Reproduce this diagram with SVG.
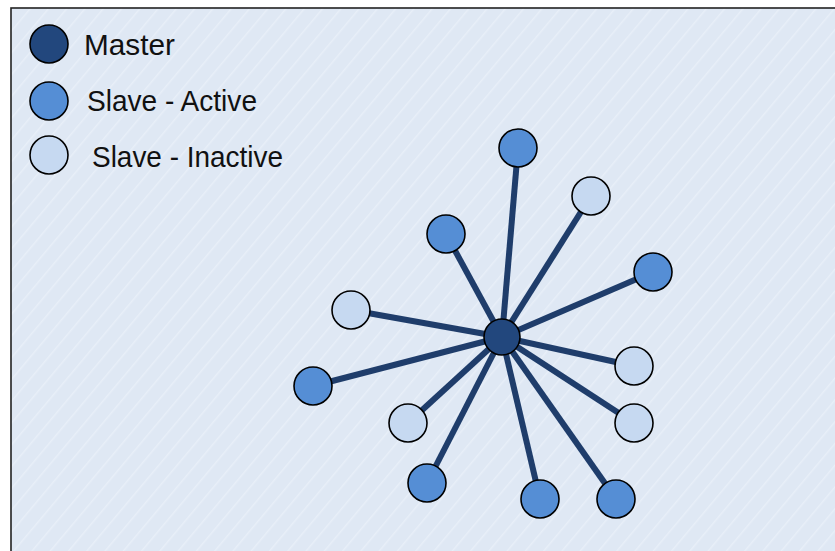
<svg xmlns="http://www.w3.org/2000/svg" width="835" height="551" viewBox="0 0 835 551">
<style>
.master{fill:#22477d;stroke:#000;stroke-width:1.6}
.active{fill:#558ed5;stroke:#000;stroke-width:1.6}
.inactive{fill:#c6d9f1;stroke:#000;stroke-width:1.6}
.link{stroke:#1f3d6b;stroke-width:6;fill:none}
.lbl{font-family:"Liberation Sans",Arial,sans-serif;font-size:30px;fill:#111}
</style>
<defs>
<pattern id="stripes" width="14" height="14" patternUnits="userSpaceOnUse" patternTransform="rotate(40)">
<rect width="14" height="14" fill="#dfe8f4"/>
<line x1="0" y1="0" x2="0" y2="14" stroke="#e8eff8" stroke-width="3"/>
</pattern>
</defs>
<rect x="0" y="0" width="835" height="551" fill="#ffffff"/>
<rect x="11" y="8" width="840" height="560" fill="url(#stripes)" stroke="#222" stroke-width="1.6"/>
<g id="legend">
<g id="legend-master"><circle class="master" cx="49" cy="44" r="19"/><text class="lbl" x="84" y="55" textLength="91" lengthAdjust="spacingAndGlyphs">Master</text></g>
<g id="legend-active"><circle class="active" cx="49" cy="101" r="19"/><text class="lbl" x="87" y="111" textLength="170" lengthAdjust="spacingAndGlyphs">Slave - Active</text></g>
<g id="legend-inactive"><circle class="inactive" cx="49" cy="155" r="19"/><text class="lbl" x="92" y="167" textLength="191" lengthAdjust="spacingAndGlyphs">Slave - Inactive</text></g>
</g>
<g id="connectors">
<line class="link" x1="502" y1="337" x2="518" y2="148"/>
<line class="link" x1="502" y1="337" x2="591" y2="196"/>
<line class="link" x1="502" y1="337" x2="446" y2="234"/>
<line class="link" x1="502" y1="337" x2="653" y2="272"/>
<line class="link" x1="502" y1="337" x2="351" y2="310"/>
<line class="link" x1="502" y1="337" x2="313" y2="386"/>
<line class="link" x1="502" y1="337" x2="634" y2="366"/>
<line class="link" x1="502" y1="337" x2="634" y2="423"/>
<line class="link" x1="502" y1="337" x2="408" y2="423"/>
<line class="link" x1="502" y1="337" x2="427" y2="483"/>
<line class="link" x1="502" y1="337" x2="540" y2="499"/>
<line class="link" x1="502" y1="337" x2="616" y2="499"/>
</g>
<g id="n1"><circle class="active" cx="518" cy="148" r="19"/></g>
<g id="n2"><circle class="inactive" cx="591" cy="196" r="19"/></g>
<g id="n3"><circle class="active" cx="446" cy="234" r="19"/></g>
<g id="n4"><circle class="active" cx="653" cy="272" r="19"/></g>
<g id="n5"><circle class="inactive" cx="351" cy="310" r="19"/></g>
<g id="n6"><circle class="active" cx="313" cy="386" r="19"/></g>
<g id="n7"><circle class="inactive" cx="634" cy="366" r="19"/></g>
<g id="n8"><circle class="inactive" cx="634" cy="423" r="19"/></g>
<g id="n9"><circle class="inactive" cx="408" cy="423" r="19"/></g>
<g id="n10"><circle class="active" cx="427" cy="483" r="19"/></g>
<g id="n11"><circle class="active" cx="540" cy="499" r="19"/></g>
<g id="n12"><circle class="active" cx="616" cy="499" r="19"/></g>
<g id="master"><circle class="master" cx="502" cy="337" r="18"/></g>
</svg>
